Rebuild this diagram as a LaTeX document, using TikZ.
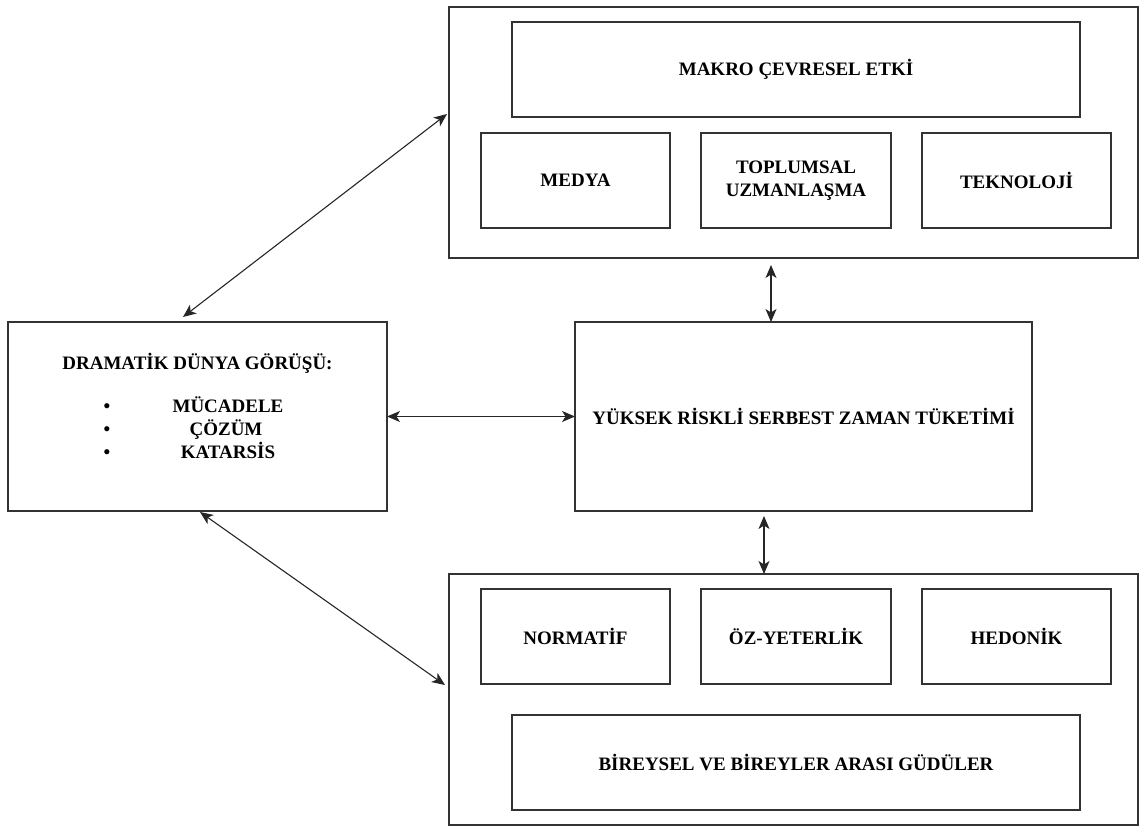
\documentclass[tikz,border=0pt]{standalone}
\usepackage{fontspec}
\setmainfont{Liberation Serif}
\usetikzlibrary{arrows.meta}
\begin{document}
\begin{tikzpicture}[x=1pt,y=-1pt,
  box/.style={draw=black!80, line width=1.2pt, inner sep=0pt, outer sep=0pt,
    font=\bfseries\fontsize{19}{23.5}\selectfont, align=center},
  small/.style={box, minimum width=189pt, minimum height=95pt},
  smallc/.style={box, minimum width=190pt, minimum height=95pt},
  wide/.style={box, minimum width=568pt, minimum height=95pt},
  big/.style={box, minimum width=689pt, minimum height=251pt},
  txt/.style={inner sep=0pt, anchor=base, font=\bfseries\fontsize{19}{23.5}\selectfont},
  link/.style={draw=black!85, line width=1.1pt,
    {Stealth[length=13pt,width=11pt,inset=3.5pt]}-{Stealth[length=13pt,width=11pt,inset=3.5pt]}}
]
\useasboundingbox (0,0) rectangle (1139,827);

% top group
\node[big] (top) at (793.5,132.5) {};
\node[wide] (makro) at (796,69.5) {MAKRO ÇEVRESEL ETKİ};
\node[small] (medya) at (575.5,180.5) {MEDYA};
\node[smallc] (topl) at (796,180.5) {TOPLUMSAL\\UZMANLAŞMA};
\node[small] (tekno) at (1016.5,180.5) {TEKNOLOJİ};

% left box
\node[box, minimum width=379pt, minimum height=189pt] (left) at (197.5,416.5) {};
\node[txt] (dram) at (197.5,369.5) {DRAMATİK DÜNYA GÖRÜŞÜ:};
\node[txt] (b1) at (107,412.5) {•};
\node[txt] (b2) at (107,435.5) {•};
\node[txt] (b3) at (107,458.5) {•};
\node[txt] (i1) at (228,412.5) {MÜCADELE};
\node[txt] (i2) at (226,435.5) {ÇÖZÜM};
\node[txt] (i3) at (228,458.5) {KATARSİS};

% middle box
\node[box, minimum width=457pt, minimum height=189pt] (mid) at (803.5,416.5) {YÜKSEK RİSKLİ SERBEST ZAMAN TÜKETİMİ};

% bottom group
\node[big] (bot) at (793.5,699.5) {};
\node[small] (norm) at (575.5,636.5) {NORMATİF};
\node[smallc] (ozy) at (796,636.5) {ÖZ-YETERLİK};
\node[small] (hedo) at (1016.5,636.5) {HEDONİK};
\node[wide] (birey) at (796,762.5) {BİREYSEL VE BİREYLER ARASI GÜDÜLER};

% connectors
\draw[link] ([xshift=-14.5pt,yshift=5pt]left.north) -- ([xshift=-2pt,yshift=18.5pt]top.west);
\draw[link] ([xshift=2.5pt,yshift=-1pt]left.south) -- ([xshift=-4pt,yshift=14.5pt]bot.west);
\draw[link] (left.east) -- (mid.west);
\draw[link] ([xshift=-22.5pt,yshift=-7pt]top.south) -- ([xshift=-32.5pt]mid.north);
\draw[link] ([xshift=-39.5pt,yshift=-5pt]mid.south) -- ([xshift=-29.5pt]bot.north);
\end{tikzpicture}
\end{document}
